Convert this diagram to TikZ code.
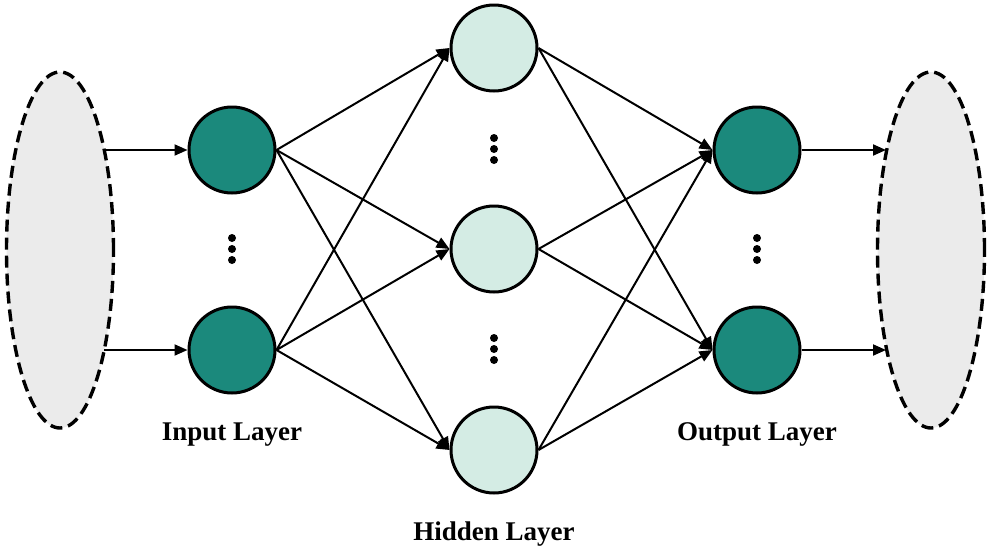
\documentclass[tikz,border=0pt]{standalone}
\usepackage{fontspec}
\setmainfont{Liberation Serif}
\usetikzlibrary{shapes.geometric,arrows.meta}
\definecolor{teal1}{RGB}{27,137,124}
\definecolor{mint}{RGB}{212,236,228}
\definecolor{shell}{RGB}{235,235,235}
\tikzset{
  dark/.style={circle,draw=black,line width=3pt,fill=teal1,minimum size=86pt,inner sep=0pt},
  light/.style={circle,draw=black,line width=3pt,fill=mint,minimum size=86pt,inner sep=0pt},
  blob/.style={ellipse,draw=black,line width=3.4pt,fill=shell,dash pattern=on 12pt off 6pt,minimum width=107pt,minimum height=356pt,inner sep=0pt},
  arr/.style={line width=2pt,-{Triangle[length=13pt,width=11pt]}},
  lbl/.style={font=\fontsize{27}{30}\selectfont\bfseries,anchor=base},
  dot/.style={circle,fill=black,minimum size=8pt,inner sep=0pt}
}
\begin{document}
\begin{tikzpicture}[x=1pt,y=-1pt]
\useasboundingbox (0,0) rectangle (991,552);
\node[blob] (e1) at (60,250) {};
\node[blob] (e2) at (931,250) {};
\node[dark] (i1) at (232,150) {};
\node[dark] (i2) at (232,350) {};
\node[light] (h1) at (494,48) {};
\node[light] (h2) at (494,249) {};
\node[light] (h3) at (494,450) {};
\node[dark] (o1) at (757,150) {};
\node[dark] (o2) at (757,350) {};
% dots
\foreach \n/\x/\y in {a/232/249,b/494/149,c/494/349,d/757/249}{
  \node[dot] (\n1) at (\x,\y-11) {};
  \node[dot] (\n2) at (\x,\y) {};
  \node[dot] (\n3) at (\x,\y+11) {};
}
% free ends on the ellipses
\coordinate (s1) at (104,150);
\coordinate (s2) at (104,350);
\coordinate (t1) at (886,150);
\coordinate (t2) at (886,350);
\draw[arr] (s1) -- (i1.west);
\draw[arr] (s2) -- (i2.west);
\draw[arr] (o1.east) -- (t1);
\draw[arr] (o2.east) -- (t2);
\foreach \i in {i1,i2}{
  \foreach \h in {h1,h2,h3}{
    \draw[arr] (\i.east) -- (\h.west);
  }
}
\foreach \h in {h1,h2,h3}{
  \foreach \o in {o1,o2}{
    \draw[arr] (\h.east) -- (\o.west);
  }
}
\node[lbl] (l1) at (232,440) {Input Layer};
\node[lbl] (l2) at (494,540) {Hidden Layer};
\node[lbl] (l3) at (757,440) {Output Layer};
\end{tikzpicture}
\end{document}
